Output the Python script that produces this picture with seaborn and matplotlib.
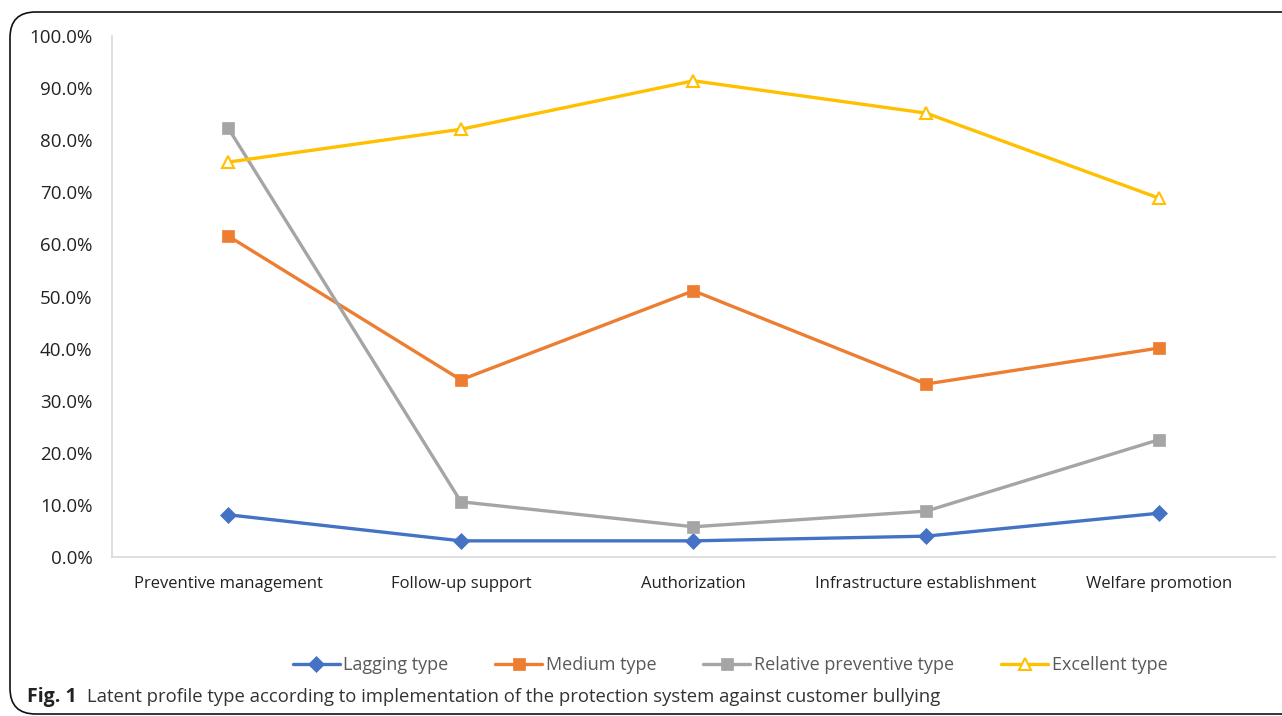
import numpy as np
import pandas as pd
import matplotlib
matplotlib.use("Agg")
import matplotlib.pyplot as plt
from matplotlib.patches import FancyBboxPatch
from matplotlib.lines import Line2D
import seaborn as sns

# data (percent)
categories = ["Preventive management", "Follow-up support", "Authorization",
              "Infrastructure establishment", "Welfare promotion"]
lagging = [8.1, 3.1, 3.1, 4.0, 8.4]
medium = [61.6, 34.0, 51.1, 33.2, 40.1]
relative = [82.3, 10.6, 5.8, 8.8, 22.5]
excellent = [75.8, 82.1, 91.4, 85.2, 68.9]

series_names = ["Lagging type", "Medium type", "Relative preventive type", "Excellent type"]
series_vals = [lagging, medium, relative, excellent]
colors = ["#4472C4", "#ED7D31", "#A5A5A5", "#FFC000"]
markers = ["D", "s", "s", "^"]
msizes = [8, 9, 9, 9]

rows = []
for name, vals in zip(series_names, series_vals):
    for i, v in enumerate(vals):
        rows.append({"cat": i, "val": v, "series": name})
df = pd.DataFrame(rows)

sns.set_style("white")
plt.rcParams['font.family'] = ['Open Sans', 'DejaVu Sans']

fig = plt.figure(figsize=(12.82, 7.16), dpi=100)
ax = fig.add_axes([112 / 1282, 1 - 557 / 716, (1275 - 112) / 1282, (557 - 36) / 716])

handles = []
for name, c, m, ms in zip(series_names, colors, markers, msizes):
    sub = df[df["series"] == name]
    face = "white" if m == "^" else c
    sns.lineplot(data=sub, x="cat", y="val", ax=ax, color=c, linewidth=2.4,
                 marker=m, markersize=ms, markerfacecolor=face,
                 markeredgecolor=c, markeredgewidth=1.5 if m == "^" else 0.5)
    handles.append(Line2D([], [], color=c, linewidth=2.4, marker=m, markersize=ms,
                          markerfacecolor=face, markeredgecolor=c,
                          markeredgewidth=1.5 if m == "^" else 0.5))

ax.set_xlim(-0.5, 4.5)
ax.set_ylim(0, 100)
ax.set_yticks(np.arange(0, 101, 10))
ax.set_yticklabels([f"{v:.1f}%" for v in np.arange(0, 101, 10)], fontsize=13.5, color="#222222")
ax.set_xticks(range(len(categories)))
ax.set_xticklabels(categories, fontsize=12, color="#222222")
ax.tick_params(axis="both", length=0)
ax.tick_params(axis="y", pad=14)
ax.tick_params(axis="x", pad=14)
ax.set_xlabel("")
ax.set_ylabel("")
for s in ["top", "right"]:
    ax.spines[s].set_visible(False)
for s in ["left", "bottom"]:
    ax.spines[s].set_color("#d9d9d9")
    ax.spines[s].set_linewidth(1.2)

fig.legend(handles, series_names, loc="center", bbox_to_anchor=(730 / 1282, 1 - 665 / 716),
           ncol=4, frameon=False, fontsize=13, handlelength=2.6, handletextpad=0.2,
           columnspacing=2.6, labelcolor="#595959")

# caption
fig.text(27 / 1282, 1 - 697 / 716, "Fig. 1", fontsize=14, fontweight="bold",
         color="#222222", va="center", ha="left")
fig.text(87 / 1282, 1 - 697 / 716,
         "Latent profile type according to implementation of the protection system against customer bullying",
         fontsize=13.3, color="#333333", va="center", ha="left")

# rounded frame around figure
frame = FancyBboxPatch((10 / 1282, 1 - 714 / 716), 1.2, (714 - 12) / 716,
                       boxstyle="round,pad=0,rounding_size=0.02",
                       transform=fig.transFigure, fill=False, edgecolor="#111111",
                       linewidth=1.2, mutation_aspect=1282 / 716)
fig.patches.append(frame)

fig.savefig("out.png", dpi=100)
